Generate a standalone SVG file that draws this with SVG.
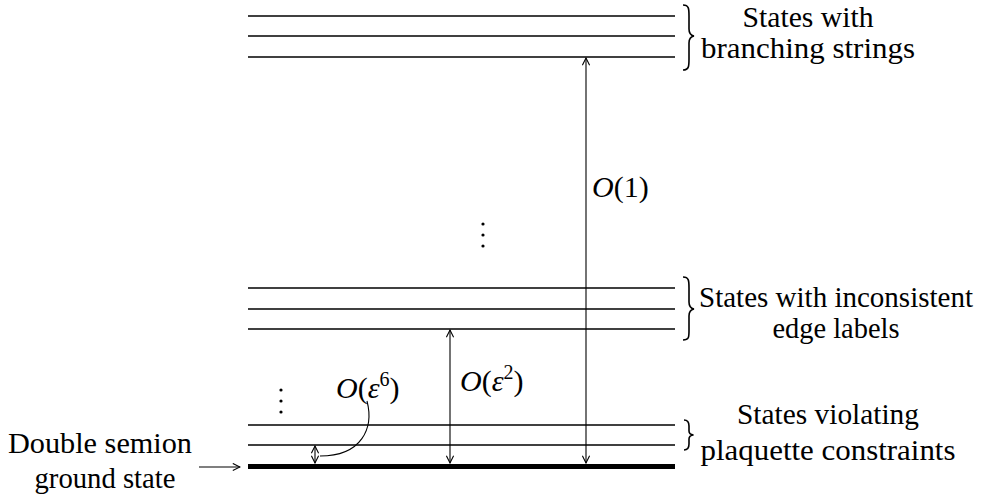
<svg xmlns="http://www.w3.org/2000/svg" width="990" height="498" viewBox="0 0 990 498">
<style>
.lvl{stroke:#000;stroke-width:1.3;fill:none}
.gnd{stroke:#000;stroke-width:5;fill:none}
.conn{stroke:#000;stroke-width:1.1;fill:none}
.brace{stroke:#000;stroke-width:1.6;fill:none}
text{font-family:"Liberation Serif","Times New Roman",serif;font-size:30px;fill:#000}
.lab{text-anchor:middle}
.it{font-style:italic}
.sup{font-size:20px}
.dot{fill:#000}
</style>
<defs>
<marker id="ah" viewBox="0 0 10 10" refX="9" refY="5" markerWidth="9" markerHeight="9" orient="auto-start-reverse" markerUnits="userSpaceOnUse">
<path d="M1,1 L9,5 L1,9" fill="none" stroke="#000" stroke-width="1.2"/>
</marker>
</defs>
<g id="levels-top">
<line class="lvl" x1="248" y1="16" x2="675" y2="16"/>
<line class="lvl" x1="248" y1="36" x2="675" y2="36"/>
<line class="lvl" x1="248" y1="57" x2="675" y2="57"/>
<path class="brace" d="M683,5 C689,5 689,9 689,16 L689,29 C689,34 691,35.5 694,36 C691,36.5 689,38 689,43 L689,59 C689,66 689,70 683,70"/>
<text class="lab" x="808" y="27" textLength="131" lengthAdjust="spacingAndGlyphs">States with</text>
<text class="lab" x="808" y="58" textLength="214" lengthAdjust="spacingAndGlyphs">branching strings</text>
</g>
<g id="levels-mid">
<line class="lvl" x1="248" y1="288" x2="675" y2="288"/>
<line class="lvl" x1="248" y1="309" x2="675" y2="309"/>
<line class="lvl" x1="248" y1="329" x2="675" y2="329"/>
<path class="brace" d="M683,277 C689,277 689,281 689,288 L689,302 C689,307 691,308.5 694,309 C691,309.5 689,311 689,316 L689,331 C689,337 689,340 683,340"/>
<text class="lab" x="836" y="307" textLength="274" lengthAdjust="spacingAndGlyphs">States with inconsistent</text>
<text class="lab" x="836" y="338" textLength="127" lengthAdjust="spacingAndGlyphs">edge labels</text>
</g>
<g id="levels-low">
<line class="lvl" x1="248" y1="425" x2="675" y2="425"/>
<line class="lvl" x1="248" y1="445" x2="675" y2="445"/>
<path class="brace" d="M684,420 C688,420 689,422 689,426 L689,431 C689,434 691,434.7 693.5,435 C691,435.3 689,436 689,439 L689,444 C689,448 688,450 684,450"/>
<text class="lab" x="828" y="424" textLength="182" lengthAdjust="spacingAndGlyphs">States violating</text>
<text class="lab" x="828" y="460" textLength="255" lengthAdjust="spacingAndGlyphs">plaquette constraints</text>
</g>
<g id="ground">
<line class="gnd" x1="248" y1="466.5" x2="675" y2="466.5"/>
<text class="lab" x="100" y="453" textLength="184" lengthAdjust="spacingAndGlyphs">Double semion</text>
<text class="lab" x="105" y="488" textLength="141" lengthAdjust="spacingAndGlyphs">ground state</text>
</g>
<g id="dots">
<circle class="dot" cx="483" cy="224" r="1.6"/>
<circle class="dot" cx="483" cy="235" r="1.6"/>
<circle class="dot" cx="483" cy="246" r="1.6"/>
<circle class="dot" cx="281" cy="390" r="1.6"/>
<circle class="dot" cx="281" cy="401" r="1.6"/>
<circle class="dot" cx="281" cy="412" r="1.6"/>
</g>
<g id="connectors">
<line class="conn" x1="199" y1="467" x2="240" y2="467" marker-end="url(#ah)"/>
<line class="conn" x1="586" y1="58" x2="586" y2="463" marker-start="url(#ah)" marker-end="url(#ah)"/>
<line class="conn" x1="450" y1="330" x2="450" y2="463" marker-start="url(#ah)" marker-end="url(#ah)"/>
<line class="conn" x1="315" y1="446" x2="315" y2="463" marker-start="url(#ah)" marker-end="url(#ah)"/>
<path class="conn" d="M367,401 C374,428 362,456 320,456"/>
</g>
<g id="labels">
<text x="592" y="197"><tspan class="it">O</tspan>(1)</text>
<text x="460" y="391"><tspan class="it">O</tspan>(<tspan class="it">ε</tspan><tspan class="sup" dy="-12">2</tspan><tspan dy="12">)</tspan></text>
<text x="336" y="398"><tspan class="it">O</tspan>(<tspan class="it">ε</tspan><tspan class="sup" dy="-12">6</tspan><tspan dy="12">)</tspan></text>
</g>
</svg>
